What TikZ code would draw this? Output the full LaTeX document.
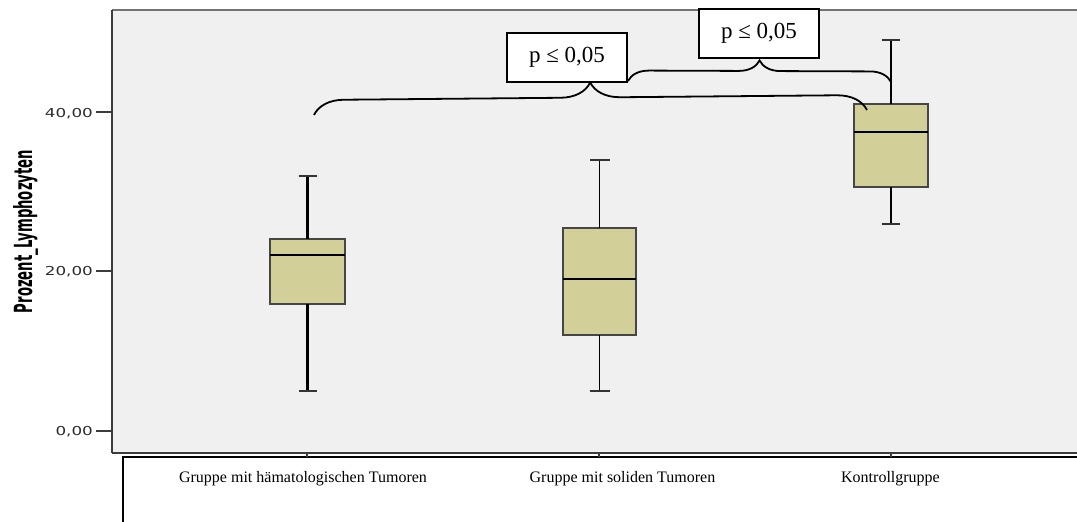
\documentclass[tikz,border=0pt]{standalone}
\usepackage{fontspec}
\setmainfont{Liberation Serif}
\newfontfamily\dvs{DejaVu Sans}
\usetikzlibrary{decorations.pathreplacing}
\definecolor{plotbg}{RGB}{240,240,240}
\definecolor{boxfill}{RGB}{211,207,152}
\definecolor{boxedge}{RGB}{70,70,70}
\definecolor{axisc}{RGB}{60,60,60}
\definecolor{tickc}{RGB}{45,45,45}
\begin{document}
\begin{tikzpicture}[x=1pt,y=-1pt,
  bx/.style={draw=boxedge, fill=boxfill, line width=1.5pt, inner sep=0pt, outer sep=0pt},
  med/.style={black, line width=1.5pt},
  wh/.style={black, line width=2.4pt},
  whcap/.style={black!80, line width=1.6pt},
  brc/.style={decorate, decoration={brace, amplitude=#1}, line width=1.8pt},
  pbox/.style={draw, fill=white, line width=1.8pt, minimum width=120pt, minimum height=49pt, inner sep=0pt, font=\fontsize{23}{26}\selectfont},
  ticklab/.style={anchor=base east, inner sep=0pt, text=tickc},
  catlab/.style={anchor=base, inner sep=0pt, font=\fontsize{16}{18}\selectfont},
  axtick/.style={axisc, line width=1.5pt}]
\useasboundingbox (0,0) rectangle (1077,522);
% plot area
\fill[plotbg] (112,10) rectangle (1077,453);
\draw[black!55, line width=1.2pt] (112,10) -- (1077,10);
\draw[axisc, line width=1.5pt] (112,453) -- (1077,453);
\draw[axisc, line width=2pt] (112,10) -- (112,453);
% y ticks
\draw[axtick] (96,112) -- (112,112);
\draw[axtick] (96,271) -- (112,271);
\draw[axtick] (96,431) -- (112,431);
\node[ticklab] (t40) at (93,117) {\scalebox{1.36}[1]{\dvs\fontsize{12.3}{14}\selectfont 40,00}};
\node[ticklab] (t20) at (93,275.5) {\scalebox{1.36}[1]{\dvs\fontsize{12.3}{14}\selectfont 20,00}};
\node[ticklab] (t0) at (93,435.5) {\scalebox{1.36}[1]{\dvs\fontsize{12.3}{14}\selectfont 0,00}};
% y label
\node[rotate=90, anchor=base, inner sep=0pt] (ylab) at (32,231.5)
  {\resizebox{163pt}{19pt}{\dvs\bfseries Prozent\_Lymphozyten}};
% category frame
\draw[black, line width=2.2pt] (123,523) -- (123,457) -- (1077,457);
\draw[axisc, line width=1.2pt] (307,453) -- (307,457);
\draw[axisc, line width=1.2pt] (599,453) -- (599,457);
\draw[axisc, line width=1.2pt] (891,453) -- (891,457);
\node[catlab] (c1) at (303,482) {Gruppe mit hämatologischen Tumoren};
\node[catlab] (c2) at (622.5,482) {Gruppe mit soliden Tumoren};
\node[catlab] (c3) at (890.5,482) {Kontrollgruppe};
% box 1
\node[bx, minimum width=75pt, minimum height=65pt] (b1) at (307.5,271.5) {};
\coordinate (u1) at (307.5,176);
\coordinate (d1) at (307.5,391);
\draw[wh] (b1.north) -- (u1);
\draw[wh] (b1.south) -- (d1);
\draw[whcap] ([xshift=-9pt]u1) -- ([xshift=9pt]u1);
\draw[whcap] ([xshift=-9pt]d1) -- ([xshift=9pt]d1);
\draw[med] (b1.west |- 0,255) -- (b1.east |- 0,255);
% box 2
\node[bx, minimum width=73pt, minimum height=107pt] (b2) at (599.5,281.5) {};
\coordinate (u2) at (599.5,160);
\coordinate (d2) at (599.5,391);
\draw[wh, line width=1.9pt] (b2.north) -- (u2);
\draw[wh, line width=1.9pt] (b2.south) -- (d2);
\draw[whcap] ([xshift=-10pt]u2) -- ([xshift=10pt]u2);
\draw[whcap] ([xshift=-10pt]d2) -- ([xshift=10pt]d2);
\draw[med] (b2.west |- 0,279) -- (b2.east |- 0,279);
% box 3
\node[bx, minimum width=74pt, minimum height=83pt] (b3) at (891,145.5) {};
\coordinate (u3) at (891,40);
\coordinate (d3) at (891,224);
\draw[wh] (b3.north) -- (u3);
\draw[wh] (b3.south) -- (d3);
\draw[whcap] ([xshift=-9pt]u3) -- ([xshift=9pt]u3);
\draw[whcap] ([xshift=-9pt]d3) -- ([xshift=9pt]d3);
\draw[med] (b3.west |- 0,132) -- (b3.east |- 0,132);
% braces
\coordinate (l1) at (314,115);
\coordinate (r1) at (867,110);
\coordinate (l2) at (628,81);
\coordinate (r2) at (891,82);
\draw[brc=30pt] (l1) -- (r1);
\draw[brc=21pt] (l2) -- (r2);
% p-value boxes
\node[pbox] (pa) at (567,57.5) {p ≤ 0,05};
\node[pbox] (pb) at (759,33.5) {p ≤ 0,05};
\end{tikzpicture}
\end{document}
